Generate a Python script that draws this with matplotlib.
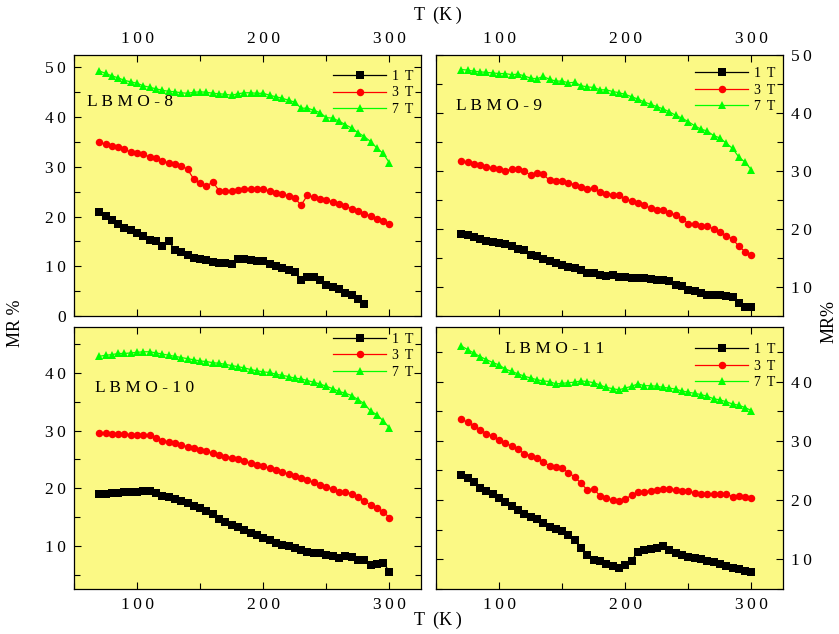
import numpy as np
import matplotlib
matplotlib.use('Agg')
import matplotlib.pyplot as plt
from matplotlib.ticker import MultipleLocator, FuncFormatter

plt.rcParams['font.family'] = ['Liberation Serif', 'DejaVu Serif']

# ---------------------------------------------------------
# Magnetoresistance vs temperature, four LBMO samples
# ---------------------------------------------------------

temps = np.arange(70, 305, 5)   # measurement grid, 70 K ... 300 K

# LBMO-8
mr8_1t = [21.0, 20.2, 19.4, 18.6, 17.8, 17.2, 16.6, 16.0, 15.2, 15.0, 14.1, 15.1, 13.3, 12.8,
          12.3, 11.6, 11.5, 11.2, 10.9, 10.7, 10.6, 10.5, 11.4, 11.4, 11.3, 11.1, 11.1, 10.5,
          10.0, 9.7, 9.2, 8.8, 7.2, 7.8, 7.8, 7.2, 6.2, 5.9, 5.4, 4.7, 4.2, 3.4, 2.5]
mr8_3t = [34.9, 34.6, 34.2, 33.9, 33.5, 33.0, 32.8, 32.5, 32.0, 31.8, 31.2, 30.8, 30.5, 30.2,
          29.5, 27.5, 26.7, 26.1, 27.0, 25.2, 25.2, 25.2, 25.4, 25.6, 25.6, 25.5, 25.5, 25.1,
          24.8, 24.5, 24.2, 23.7, 22.3, 24.3, 23.9, 23.5, 23.3, 23.0, 22.5, 22.1, 21.6, 21.2,
          20.6, 20.1, 19.6, 19.1, 18.5]
mr8_7t = [49.3, 48.8, 48.3, 47.9, 47.4, 47.1, 46.8, 46.3, 46.0, 45.7, 45.4, 45.2, 45.1, 44.9,
          44.8, 45.0, 45.1, 45.0, 44.8, 44.7, 44.6, 44.4, 44.7, 44.9, 44.9, 44.8, 44.8, 44.4,
          44.1, 43.8, 43.4, 43.0, 41.8, 41.8, 41.4, 40.9, 39.9, 39.8, 39.2, 38.5, 37.8, 36.9,
          36.1, 35.1, 33.8, 32.7, 30.8]

# LBMO-9
mr9_1t = [19.2, 18.9, 18.6, 18.3, 18.0, 17.8, 17.6, 17.4, 17.1, 16.5, 16.3, 15.5, 15.3, 14.9,
          14.4, 14.1, 13.8, 13.5, 13.2, 12.9, 12.5, 12.4, 12.0, 11.9, 12.0, 11.8, 11.7, 11.6,
          11.6, 11.5, 11.3, 11.2, 11.2, 11.0, 10.4, 10.1, 9.5, 9.3, 8.9, 8.7, 8.6, 8.6,
          8.4, 8.2, 7.2, 6.6, 6.5]
mr9_3t = [31.8, 31.5, 31.2, 31.0, 30.7, 30.5, 30.3, 30.0, 30.4, 30.3, 30.0, 29.3, 29.6, 29.4,
          28.4, 28.3, 28.2, 28.0, 27.6, 27.3, 26.9, 27.0, 26.4, 26.1, 25.9, 25.8, 25.2, 24.8,
          24.5, 24.1, 23.6, 23.2, 23.3, 22.8, 22.4, 21.8, 20.9, 20.9, 20.5, 20.5, 20.0, 19.5,
          18.8, 18.3, 17.0, 16.1, 15.5]
mr9_7t = [47.5, 47.4, 47.2, 47.1, 47.0, 46.9, 46.8, 46.8, 46.6, 46.7, 46.4, 46.0, 45.9, 46.3,
          45.8, 45.5, 45.5, 45.2, 45.3, 44.7, 44.5, 44.4, 44.0, 44.0, 43.7, 43.5, 43.2, 42.8,
          42.4, 41.9, 41.5, 41.1, 40.7, 40.2, 39.6, 39.1, 38.5, 37.8, 37.2, 36.9, 36.1, 35.7,
          34.8, 33.9, 32.4, 31.5, 30.2]

# LBMO-10
mr10_1t = [19.0, 19.0, 19.1, 19.2, 19.3, 19.3, 19.4, 19.5, 19.5, 19.1, 18.7, 18.4, 18.1, 17.7,
           17.4, 17.0, 16.5, 16.0, 15.5, 14.7, 14.1, 13.7, 13.2, 12.7, 12.2, 11.9, 11.3, 11.0,
           10.5, 10.2, 9.9, 9.6, 9.2, 9.0, 8.8, 8.7, 8.4, 8.2, 7.8, 8.2, 8.0, 7.6,
           7.5, 6.7, 6.9, 7.1, 5.5]
mr10_3t = [29.6, 29.6, 29.5, 29.4, 29.4, 29.3, 29.3, 29.2, 29.2, 28.7, 28.2, 28.1, 27.9, 27.5,
           27.2, 26.9, 26.7, 26.4, 26.1, 25.8, 25.5, 25.3, 25.0, 24.7, 24.3, 24.1, 23.8, 23.5,
           23.1, 22.8, 22.5, 22.1, 21.8, 21.4, 21.0, 20.5, 20.2, 19.9, 19.3, 19.4, 19.0, 18.5,
           17.8, 17.1, 16.6, 15.9, 14.9]
mr10_7t = [42.9, 43.1, 43.2, 43.4, 43.4, 43.5, 43.6, 43.7, 43.7, 43.5, 43.3, 43.1, 42.9, 42.7,
           42.5, 42.3, 42.1, 42.0, 41.8, 41.7, 41.5, 41.3, 41.1, 40.9, 40.6, 40.4, 40.2, 40.1,
           39.8, 39.6, 39.4, 39.1, 39.0, 38.7, 38.4, 38.1, 37.7, 37.3, 36.8, 36.5, 36.1, 35.4,
           34.7, 33.4, 32.8, 31.7, 30.5]

# LBMO-11
mr11_1t = [24.3, 23.7, 23.1, 22.0, 21.6, 21.1, 20.3, 19.6, 19.0, 18.4, 17.7, 17.2, 16.8, 16.1,
           15.5, 15.1, 14.8, 14.1, 13.2, 11.9, 10.8, 9.9, 9.7, 9.2, 8.8, 8.5, 9.0, 9.8,
           11.3, 11.5, 11.7, 11.9, 12.2, 11.6, 11.1, 10.7, 10.4, 10.2, 10.0, 9.8, 9.6, 9.3,
           8.9, 8.5, 8.4, 8.0, 7.8]
mr11_3t = [33.7, 33.1, 32.5, 31.9, 31.2, 30.8, 30.2, 29.6, 29.1, 28.6, 27.8, 27.5, 27.1, 26.4,
           25.8, 25.5, 25.4, 24.6, 23.9, 22.8, 21.7, 21.9, 20.7, 20.3, 20.0, 19.8, 20.2, 20.8,
           21.3, 21.4, 21.6, 21.7, 21.9, 21.9, 21.7, 21.6, 21.5, 21.2, 21.1, 21.1, 21.0, 21.0,
           21.0, 20.6, 20.7, 20.5, 20.3]
mr11_7t = [46.0, 45.4, 44.8, 44.2, 43.7, 43.2, 42.8, 42.1, 41.7, 41.3, 40.9, 40.6, 40.3, 40.1,
           40.0, 39.6, 39.7, 39.8, 39.9, 40.1, 40.0, 39.8, 39.4, 39.0, 38.8, 38.6, 38.9, 39.2,
           39.6, 39.3, 39.3, 39.2, 39.0, 38.9, 38.7, 38.4, 38.2, 38.0, 37.8, 37.5, 37.1, 36.9,
           36.6, 36.2, 36.0, 35.6, 35.1]

samples = ['LBMO-8', 'LBMO-9', 'LBMO-10', 'LBMO-11']
fields = ['1 T', '3 T', '7 T']
series = [(mr8_1t, mr8_3t, mr8_7t), (mr9_1t, mr9_3t, mr9_7t),
          (mr10_1t, mr10_3t, mr10_7t), (mr11_1t, mr11_3t, mr11_7t)]

# ---------------------------------------------------------
# Figure layout
# ---------------------------------------------------------
W, H = 839, 634
fig = plt.figure(figsize=(W / 100, H / 100), dpi=100)

def px_axes(left, top, right, bottom):
    return fig.add_axes([left / W, 1 - bottom / H, (right - left) / W, (bottom - top) / H])

axes = [px_axes(74, 55, 421, 316), px_axes(436, 55, 783, 316),
        px_axes(74, 327, 421, 589), px_axes(436, 327, 783, 589)]

ylims = [(0, 52.5), (5, 50), (2.5, 48), (5, 49.2)]
label_pos = [(0.037, 0.82), (0.058, 0.805), (0.06, 0.767), (0.2, 0.916)]
legend_anchor = [(1.005, 0.98), (1.005, 0.99), (1.005, 1.015), (1.005, 0.975)]

bg = '#fbf985'
styles = [dict(color='black', marker='s', ms=5.2),
          dict(color='#ff0000', marker='o', ms=5.4),
          dict(color='#00ff00', marker='^', ms=6.3)]

# the original typesetting spreads characters out a little
spaced = FuncFormatter(lambda v, pos: '\u2009'.join(f'{v:.0f}'))

for i, ax in enumerate(axes):
    ax.set_facecolor(bg)
    for data, field, st in zip(series[i], fields, styles):
        ax.plot(temps[:len(data)], data, lw=0.9, label=field.replace(' ', '\u2009 '),
                markeredgewidth=0, **st)

    ax.set_xlim(50, 325)
    ax.set_ylim(*ylims[i])
    ax.xaxis.set_major_locator(MultipleLocator(100))
    ax.xaxis.set_minor_locator(MultipleLocator(50))
    ax.yaxis.set_major_locator(MultipleLocator(10))
    ax.yaxis.set_minor_locator(MultipleLocator(5))
    ax.xaxis.set_major_formatter(spaced)
    ax.yaxis.set_major_formatter(spaced)

    top_row = i < 2
    left_col = i % 2 == 0
    ax.tick_params(which='both', direction='in', top=True, right=True,
                   labeltop=top_row, labelbottom=not top_row,
                   labelleft=left_col, labelright=not left_col,
                   labelsize=12.5, width=0.8, pad=6)
    ax.tick_params(which='major', length=5)
    ax.tick_params(which='minor', length=4)
    for sp in ax.spines.values():
        sp.set_linewidth(0.9)

    ax.text(*label_pos[i], ' '.join(samples[i]),
            transform=ax.transAxes, fontsize=12.5, ha='left', va='center')
    ax.legend(loc='upper right', bbox_to_anchor=legend_anchor[i], frameon=False,
              fontsize=10, handlelength=3.8, handletextpad=0.4,
              labelspacing=0.25, borderaxespad=0.3)

axis_t = 'T\u2009 (K\u2009)'
fig.text(438 / W, 1 - 15 / H, axis_t, ha='center', va='center', fontsize=13)
fig.text(438 / W, 1 - 620 / H, axis_t, ha='center', va='center', fontsize=13)
fig.text(15 / W, 1 - 323 / H, 'MR %', ha='center', va='center', rotation=90, fontsize=13)
fig.text(829 / W, 1 - 322 / H, 'MR%', ha='center', va='center', rotation=90, fontsize=13)

fig.savefig('out.png', dpi=100)
